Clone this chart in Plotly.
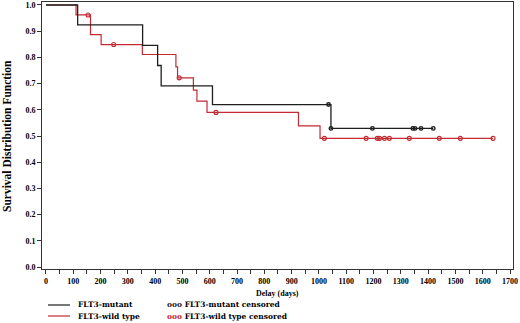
import plotly.graph_objects as go

# ---- data ----
mutant_days = [0, 116, 354, 409, 422, 610, 1044]
mutant_surv = [1.0, 0.924, 0.846, 0.769, 0.691, 0.620, 0.529]
mutant_end = 1419
mutant_cens_days = [1035, 1044, 1196, 1344, 1352, 1374, 1419]
mutant_cens_surv = [0.620, 0.529, 0.529, 0.529, 0.529, 0.529, 0.529]

wild_days = [0, 110, 163, 202, 353, 476, 482, 540, 553, 590, 925, 1004]
wild_surv = [1.0, 0.962, 0.887, 0.849, 0.811, 0.764, 0.722, 0.675, 0.633, 0.590, 0.539, 0.491]
wild_end = 1638
wild_cens_days = [154, 248, 488, 623, 1020, 1173, 1214, 1222, 1240, 1258, 1331, 1441, 1518, 1638]
wild_cens_surv = [0.962, 0.849, 0.722, 0.590, 0.491, 0.491, 0.491, 0.491, 0.491, 0.491, 0.491, 0.491, 0.491, 0.491]

x_ticks = list(range(0, 1701, 100))
y_ticks = [i / 10 for i in range(0, 11)]

BLACK = "#1e1e1e"
RED = "#c42a32"
FONT = "Liberation Serif"
LEGFONT = "DejaVu Serif"

fig = go.Figure()
fig.add_trace(go.Scatter(x=wild_days + [wild_end], y=wild_surv + [wild_surv[-1]],
                         mode="lines", line=dict(color=RED, width=1.2, shape="hv"),
                         name="FLT3-wild type", showlegend=False))
fig.add_trace(go.Scatter(x=mutant_days + [mutant_end], y=mutant_surv + [mutant_surv[-1]],
                         mode="lines", line=dict(color=BLACK, width=1.3, shape="hv"),
                         name="FLT3-mutant", showlegend=False))
fig.add_trace(go.Scatter(x=wild_cens_days, y=wild_cens_surv, mode="markers",
                         marker=dict(symbol="circle-open", size=4, color=RED, line=dict(width=1.1)),
                         name="FLT3-wild type censored", showlegend=False))
fig.add_trace(go.Scatter(x=mutant_cens_days, y=mutant_cens_surv, mode="markers",
                         marker=dict(symbol="circle-open", size=3.5, color=BLACK, line=dict(width=1.4)),
                         name="FLT3-mutant censored", showlegend=False))

L, R, T, B = 42, 7, 2, 54
W, H = 520, 323
pw, ph = W - L - R, H - T - B

def px(x):
    return (x - L) / pw

def py(y):
    return (H - B - y) / ph

axis_common = dict(showline=True, linecolor="#333", linewidth=1, mirror=True,
                   ticks="outside", tickcolor="#333", showgrid=False, zeroline=False,
                   automargin=False,
                   tickfont=dict(family=FONT, size=8, color="black", weight="bold"))

fig.update_xaxes(range=[-14.6, 1711], tickmode="array", tickvals=x_ticks,
                 ticktext=[str(v) for v in x_ticks], ticklen=4,
                 minor=dict(dtick=50, tick0=0, ticks="outside", ticklen=4, tickcolor="#333"),
                 **axis_common)
fig.update_yaxes(range=[-0.0076, 1.0114], tickmode="array", tickvals=y_ticks,
                 ticktext=[f"{v:.1f}" for v in y_ticks], ticklen=4, **axis_common)

ann = []
shapes = []
# axis titles
ann.append(dict(text="Delay (days)", xref="paper", yref="paper", x=0.5, y=py(293),
                xanchor="center", yanchor="middle", showarrow=False,
                font=dict(family=FONT, size=8, color="black", weight="bold")))
ann.append(dict(text="Survival Distribution Function", xref="paper", yref="paper",
                x=px(7), y=py(136), textangle=-90, xanchor="center", yanchor="middle",
                showarrow=False, font=dict(family=FONT, size=11.5, color="black", weight="bold")))

# legend (manual, to match compact layout)
legend_rows = [("FLT3-mutant", BLACK, 305), ("FLT3-wild type", RED, 316)]
for label, col, yy in legend_rows:
    shapes.append(dict(type="line", xref="paper", yref="paper", x0=px(48), x1=px(70),
                       y0=py(yy), y1=py(yy), line=dict(color=col, width=1.2)))
    ann.append(dict(text=label, xref="paper", yref="paper", x=px(76), y=py(yy),
                    xanchor="left", yanchor="middle", showarrow=False,
                    font=dict(family=LEGFONT, size=7.5, color="black", weight="bold")))
    ann.append(dict(text=f"<span style='color:{col}'>ooo</span> {label} censored",
                    xref="paper", yref="paper", x=px(165), y=py(yy),
                    xanchor="left", yanchor="middle", showarrow=False,
                    font=dict(family=LEGFONT, size=7.5, color="black", weight="bold")))

fig.update_layout(width=W, height=H, margin=dict(l=L, r=R, t=T, b=B, pad=0),
                  paper_bgcolor="white", plot_bgcolor="white",
                  annotations=ann, shapes=shapes, showlegend=False)

fig.write_html("out.html", config={"displayModeBar": False},
               post_script="document.body.style.margin='0';document.body.style.overflow='hidden';")
